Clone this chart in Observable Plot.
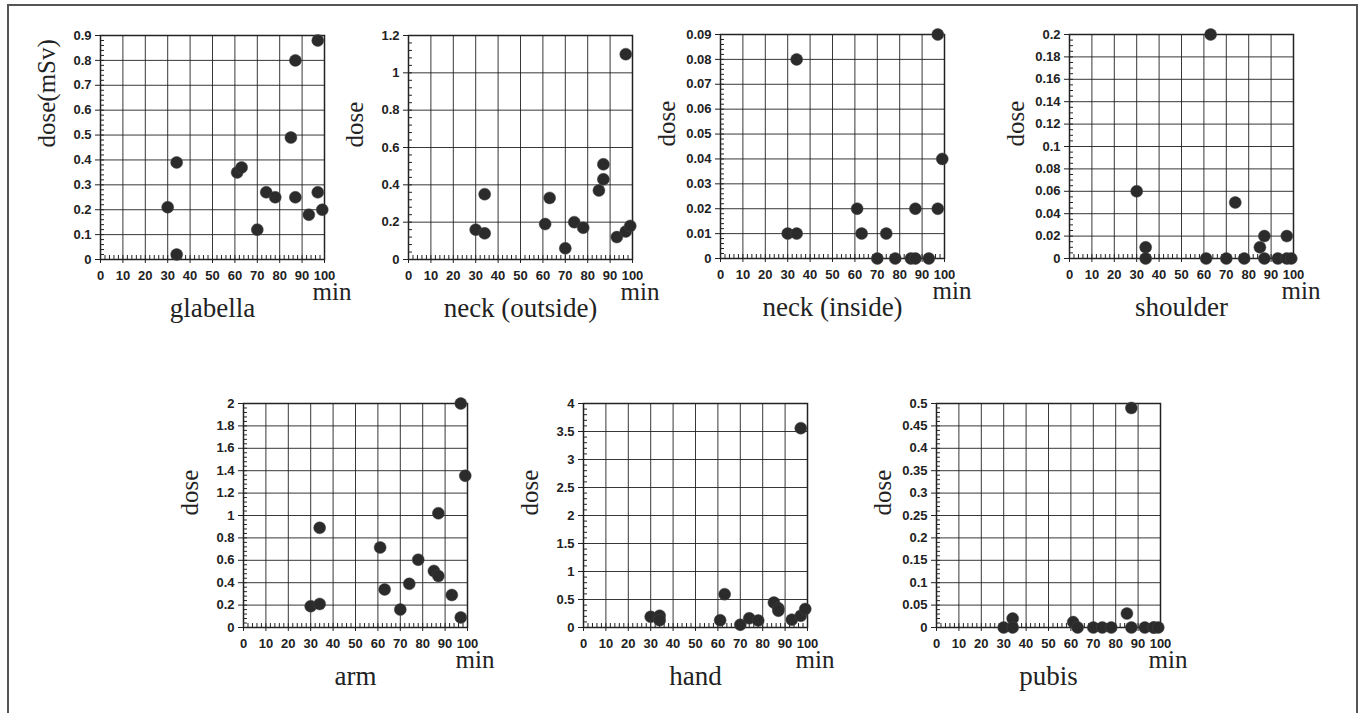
<!DOCTYPE html>
<html><head><meta charset="utf-8">
<script src="https://cdn.jsdelivr.net/npm/d3@7"></script>
<script src="https://cdn.jsdelivr.net/npm/@observablehq/plot@0.6"></script>
<style>
body{margin:0;background:#fff;}
#chart{position:relative;width:1359px;height:713px;overflow:hidden;background:#fff;}
#border{position:absolute;left:7px;top:4px;width:1347px;height:760px;border:2px solid #555;}
.panel{position:absolute;}
</style></head><body><div id="chart"><div id="border"></div></div>
<script>
// Data: elapsed time (min) for each case, and doses per body site
const minutes   = [30, 34, 34, 61, 63, 70, 74, 78, 85, 87, 87, 93, 97, 97, 99];
const glabella  = [0.21, 0.39, 0.02, 0.35, 0.37, 0.12, 0.27, 0.25, 0.49, 0.80, 0.25, 0.18, 0.88, 0.27, 0.20];
const neckOut   = [0.16, 0.35, 0.14, 0.19, 0.33, 0.06, 0.20, 0.17, 0.37, 0.51, 0.43, 0.12, 1.10, 0.15, 0.18];
const neckIn    = [0.01, 0.08, 0.01, 0.02, 0.01, 0, 0.01, 0, 0, 0.02, 0, 0, 0.09, 0.02, 0.04];
const shoulder  = [0.06, 0.01, 0, 0, 0.20, 0, 0.05, 0, 0.01, 0.02, 0, 0, 0.02, 0, 0];
const arm       = [0.19, 0.21, 0.89, 0.715, 0.34, 0.16, 0.39, 0.605, 0.505, 0.46, 1.02, 0.29, 2.0, 0.09, 1.355];
const hand      = [0.19, 0.21, 0.13, 0.13, 0.595, 0.05, 0.165, 0.125, 0.445, 0.345, 0.30, 0.14, 3.56, 0.21, 0.33];
const pubis     = [0, 0.02, 0, 0.012, 0, 0, 0, 0, 0.031, 0.49, 0, 0, 0, 0, 0];

// Tick labels
const xTicks = [0, 10, 20, 30, 40, 50, 60, 70, 80, 90, 100];
const yTicksGlabella = [0, 0.1, 0.2, 0.3, 0.4, 0.5, 0.6, 0.7, 0.8, 0.9];
const yTicksNeckOut  = [0, 0.2, 0.4, 0.6, 0.8, 1, 1.2];
const yTicksNeckIn   = [0, 0.01, 0.02, 0.03, 0.04, 0.05, 0.06, 0.07, 0.08, 0.09];
const yTicksShoulder = [0, 0.02, 0.04, 0.06, 0.08, 0.1, 0.12, 0.14, 0.16, 0.18, 0.2];
const yTicksArm      = [0, 0.2, 0.4, 0.6, 0.8, 1, 1.2, 1.4, 1.6, 1.8, 2];
const yTicksHand     = [0, 0.5, 1, 1.5, 2, 2.5, 3, 3.5, 4];
const yTicksPubis    = [0, 0.05, 0.1, 0.15, 0.2, 0.25, 0.3, 0.35, 0.4, 0.45, 0.5];

const titles = ["glabella", "neck (outside)", "neck (inside)", "shoulder", "arm", "hand", "pubis"];
const yLabels = ["dose(mSv)", "dose", "dose", "dose", "dose", "dose", "dose"];
const xLabel = "min";

// Layout (frame top-left corners) and per-panel minor tick counts
const series = [glabella, neckOut, neckIn, shoulder, arm, hand, pubis];
const yTickSets = [yTicksGlabella, yTicksNeckOut, yTicksNeckIn, yTicksShoulder, yTicksArm, yTicksHand, yTicksPubis];
const layout = [
  {left: 100, top: 35, sub: 5}, {left: 408, top: 35, sub: 5}, {left: 720, top: 34, sub: 5}, {left: 1069, top: 34, sub: 4},
  {left: 243, top: 403, sub: 5}, {left: 583, top: 403, sub: 5}, {left: 936, top: 403, sub: 5}
];

const W = 224, H = 224;
const mL = 80, mR = 70, mT = 12, mB = 84;
const ink = "#222";
const serif = "'Liberation Serif', 'Times New Roman', serif";
const chart = document.getElementById("chart");

series.forEach((vals, i) => {
  const ticks = yTickSets[i];
  const yMax = ticks[ticks.length - 1];
  const step = ticks[1] - ticks[0];
  const sub = layout[i].sub;
  const yMinor = d3.range(0, Math.round(yMax / step * sub) + 1).map(k => k * step / sub);
  const xMinor = d3.range(0, 51).map(k => k * 2);
  const data = minutes.map((m, j) => ({m, v: vals[j]}));
  const plot = Plot.plot({
    width: W + mL + mR, height: H + mT + mB,
    marginLeft: mL, marginRight: mR, marginTop: mT, marginBottom: mB,
    style: {background: "transparent", overflow: "visible", fontFamily: "'Liberation Sans', Arial, sans-serif", fontWeight: "bold", fontSize: "13px", color: ink},
    x: {domain: [0, 100], label: null},
    y: {domain: [0, yMax], label: null},
    marks: [
      Plot.gridX(xTicks, {stroke: ink, strokeOpacity: 0.9, strokeWidth: 1}),
      Plot.gridY(ticks, {stroke: ink, strokeOpacity: 0.9, strokeWidth: 1}),
      Plot.tickY(yMinor, {y: d => d, insetRight: W - 4, stroke: ink, strokeWidth: 1}),
      Plot.tickX(xMinor, {x: d => d, insetTop: H - 4, stroke: ink, strokeWidth: 1}),
      Plot.frame({stroke: ink, strokeWidth: 1.5}),
      Plot.axisX(xTicks, {tickSize: 4, tickPadding: 7, label: null, tickFormat: d => String(d), fontSize: 13, fontWeight: "bold", fill: ink, stroke: ink}),
      Plot.axisY(ticks, {tickSize: 5, tickPadding: 4, label: null, tickFormat: d => String(d), fontSize: 13, fontWeight: "bold", fill: ink, stroke: ink}),
      Plot.dot(data, {x: "m", y: "v", r: 6, fill: "#2b2b2b", stroke: "#444", strokeWidth: 0.5}),
      Plot.text([yLabels[i]], {frameAnchor: "left", text: d => d, rotate: -90, dx: -54, fontSize: 25, fontFamily: serif, fontWeight: "normal", fill: ink}),
      Plot.text([xLabel], {frameAnchor: "bottom-right", text: d => d, textAnchor: "start", dx: -12, dy: 40, fontSize: 25, fontFamily: serif, fontWeight: "normal", fill: ink}),
      Plot.text([titles[i]], {frameAnchor: "bottom", text: d => d, dy: 57, fontSize: 27, fontFamily: serif, fontWeight: "normal", fill: ink})
    ]
  });
  plot.classList.add("panel");
  plot.style.left = (layout[i].left - mL) + "px";
  plot.style.top = (layout[i].top - mT) + "px";
  chart.appendChild(plot);
});
</script>
</body></html>
